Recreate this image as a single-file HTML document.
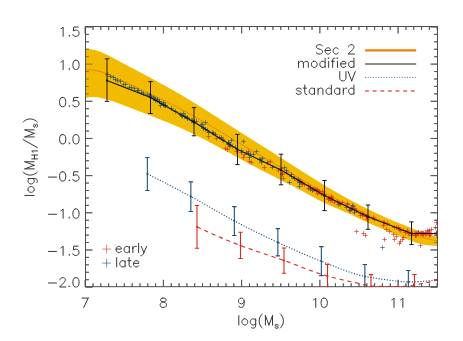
<!DOCTYPE html>
<html><head><meta charset="utf-8"><title>plot</title><style>html,body{margin:0;padding:0;background:#fff;font-family:"Liberation Sans",sans-serif}svg{display:block}</style></head><body><svg width="463" height="341" viewBox="0 0 463 341">
<rect width="463" height="341" fill="#fff"/>
<defs><clipPath id="c"><rect x="85.5" y="26.5" width="352" height="260.2"/></clipPath><clipPath id="c2"><rect x="85.5" y="26.5" width="352" height="260.7"/></clipPath></defs>
<path d="M85.2 286.7v-6.9M85.2 26.5v6.9M93.02 286.7v-3.4M93.02 26.5v3.4M100.84 286.7v-3.4M100.84 26.5v3.4M108.67 286.7v-3.4M108.67 26.5v3.4M116.49 286.7v-3.4M116.49 26.5v3.4M124.31 286.7v-3.4M124.31 26.5v3.4M132.13 286.7v-3.4M132.13 26.5v3.4M139.96 286.7v-3.4M139.96 26.5v3.4M147.78 286.7v-3.4M147.78 26.5v3.4M155.6 286.7v-3.4M155.6 26.5v3.4M163.42 286.7v-6.9M163.42 26.5v6.9M171.24 286.7v-3.4M171.24 26.5v3.4M179.07 286.7v-3.4M179.07 26.5v3.4M186.89 286.7v-3.4M186.89 26.5v3.4M194.71 286.7v-3.4M194.71 26.5v3.4M202.53 286.7v-3.4M202.53 26.5v3.4M210.36 286.7v-3.4M210.36 26.5v3.4M218.18 286.7v-3.4M218.18 26.5v3.4M226 286.7v-3.4M226 26.5v3.4M233.82 286.7v-3.4M233.82 26.5v3.4M241.64 286.7v-6.9M241.64 26.5v6.9M249.47 286.7v-3.4M249.47 26.5v3.4M257.29 286.7v-3.4M257.29 26.5v3.4M265.11 286.7v-3.4M265.11 26.5v3.4M272.93 286.7v-3.4M272.93 26.5v3.4M280.76 286.7v-3.4M280.76 26.5v3.4M288.58 286.7v-3.4M288.58 26.5v3.4M296.4 286.7v-3.4M296.4 26.5v3.4M304.22 286.7v-3.4M304.22 26.5v3.4M312.04 286.7v-3.4M312.04 26.5v3.4M319.87 286.7v-6.9M319.87 26.5v6.9M327.69 286.7v-3.4M327.69 26.5v3.4M335.51 286.7v-3.4M335.51 26.5v3.4M343.33 286.7v-3.4M343.33 26.5v3.4M351.16 286.7v-3.4M351.16 26.5v3.4M358.98 286.7v-3.4M358.98 26.5v3.4M366.8 286.7v-3.4M366.8 26.5v3.4M374.62 286.7v-3.4M374.62 26.5v3.4M382.44 286.7v-3.4M382.44 26.5v3.4M390.27 286.7v-3.4M390.27 26.5v3.4M398.09 286.7v-6.9M398.09 26.5v6.9M405.91 286.7v-3.4M405.91 26.5v3.4M413.73 286.7v-3.4M413.73 26.5v3.4M421.56 286.7v-3.4M421.56 26.5v3.4M429.38 286.7v-3.4M429.38 26.5v3.4M437.2 286.7v-3.4M437.2 26.5v3.4M85.5 26.95h6.9M437.5 26.95h-6.9M85.5 34.38h3.4M437.5 34.38h-3.4M85.5 41.82h3.4M437.5 41.82h-3.4M85.5 49.25h3.4M437.5 49.25h-3.4M85.5 56.69h3.4M437.5 56.69h-3.4M85.5 64.12h6.9M437.5 64.12h-6.9M85.5 71.56h3.4M437.5 71.56h-3.4M85.5 78.99h3.4M437.5 78.99h-3.4M85.5 86.42h3.4M437.5 86.42h-3.4M85.5 93.86h3.4M437.5 93.86h-3.4M85.5 101.29h6.9M437.5 101.29h-6.9M85.5 108.73h3.4M437.5 108.73h-3.4M85.5 116.16h3.4M437.5 116.16h-3.4M85.5 123.6h3.4M437.5 123.6h-3.4M85.5 131.03h3.4M437.5 131.03h-3.4M85.5 138.46h6.9M437.5 138.46h-6.9M85.5 145.9h3.4M437.5 145.9h-3.4M85.5 153.33h3.4M437.5 153.33h-3.4M85.5 160.77h3.4M437.5 160.77h-3.4M85.5 168.2h3.4M437.5 168.2h-3.4M85.5 175.64h6.9M437.5 175.64h-6.9M85.5 183.07h3.4M437.5 183.07h-3.4M85.5 190.5h3.4M437.5 190.5h-3.4M85.5 197.94h3.4M437.5 197.94h-3.4M85.5 205.37h3.4M437.5 205.37h-3.4M85.5 212.81h6.9M437.5 212.81h-6.9M85.5 220.24h3.4M437.5 220.24h-3.4M85.5 227.68h3.4M437.5 227.68h-3.4M85.5 235.11h3.4M437.5 235.11h-3.4M85.5 242.54h3.4M437.5 242.54h-3.4M85.5 249.98h6.9M437.5 249.98h-6.9M85.5 257.41h3.4M437.5 257.41h-3.4M85.5 264.85h3.4M437.5 264.85h-3.4M85.5 272.28h3.4M437.5 272.28h-3.4M85.5 279.72h3.4M437.5 279.72h-3.4M85.5 287.15h6.9M437.5 287.15h-6.9" fill="none" stroke="#4d4d4d" stroke-width="0.9"/>
<g clip-path="url(#c)">
<path d="M85 49.03 L86 48.99 L87 48.97 L88 49 L89 49.06 L90 49.15 L91 49.28 L92 49.44 L93 49.63 L94 49.85 L95 50.09 L96 50.37 L97 50.66 L98 50.99 L99 51.33 L100 51.7 L101 52.08 L102 52.49 L103 52.91 L104 53.35 L105 53.8 L106 54.27 L107 54.75 L108 55.25 L109 55.75 L110 56.26 L111 56.78 L112 57.31 L113 57.84 L114 58.38 L115 58.91 L116 59.45 L117 59.99 L118 60.53 L119 61.07 L120 61.61 L121 62.14 L122 62.68 L123 63.21 L124 63.75 L125 64.28 L126 64.81 L127 65.35 L128 65.88 L129 66.41 L130 66.94 L131 67.47 L132 68 L133 68.53 L134 69.06 L135 69.59 L136 70.12 L137 70.65 L138 71.18 L139 71.71 L140 72.24 L141 72.77 L142 73.3 L143 73.84 L144 74.37 L145 74.9 L146 75.43 L147 75.97 L148 76.5 L149 77.04 L150 77.57 L151 78.11 L152 78.65 L153 79.18 L154 79.72 L155 80.26 L156 80.8 L157 81.35 L158 81.89 L159 82.44 L160 82.98 L161 83.53 L162 84.08 L163 84.63 L164 85.18 L165 85.74 L166 86.29 L167 86.85 L168 87.41 L169 87.97 L170 88.53 L171 89.1 L172 89.67 L173 90.24 L174 90.81 L175 91.38 L176 91.96 L177 92.53 L178 93.11 L179 93.7 L180 94.28 L181 94.87 L182 95.46 L183 96.05 L184 96.65 L185 97.24 L186 97.84 L187 98.45 L188 99.05 L189 99.65 L190 100.26 L191 100.87 L192 101.48 L193 102.1 L194 102.71 L195 103.33 L196 103.95 L197 104.57 L198 105.19 L199 105.81 L200 106.44 L201 107.06 L202 107.69 L203 108.32 L204 108.95 L205 109.58 L206 110.21 L207 110.85 L208 111.48 L209 112.12 L210 112.75 L211 113.39 L212 114.03 L213 114.67 L214 115.31 L215 115.95 L216 116.59 L217 117.23 L218 117.87 L219 118.51 L220 119.15 L221 119.79 L222 120.44 L223 121.08 L224 121.72 L225 122.36 L226 123.01 L227 123.65 L228 124.29 L229 124.93 L230 125.57 L231 126.22 L232 126.86 L233 127.5 L234 128.14 L235 128.78 L236 129.42 L237 130.05 L238 130.69 L239 131.33 L240 131.97 L241 132.6 L242 133.23 L243 133.87 L244 134.5 L245 135.13 L246 135.76 L247 136.4 L248 137.03 L249 137.66 L250 138.29 L251 138.91 L252 139.54 L253 140.17 L254 140.8 L255 141.43 L256 142.05 L257 142.68 L258 143.31 L259 143.94 L260 144.56 L261 145.19 L262 145.82 L263 146.44 L264 147.07 L265 147.7 L266 148.33 L267 148.96 L268 149.59 L269 150.21 L270 150.84 L271 151.47 L272 152.1 L273 152.74 L274 153.37 L275 154 L276 154.63 L277 155.27 L278 155.9 L279 156.54 L280 157.17 L281 157.81 L282 158.45 L283 159.09 L284 159.73 L285 160.37 L286 161.01 L287 161.65 L288 162.29 L289 162.94 L290 163.58 L291 164.22 L292 164.86 L293 165.51 L294 166.15 L295 166.79 L296 167.43 L297 168.07 L298 168.71 L299 169.36 L300 170 L301 170.63 L302 171.27 L303 171.91 L304 172.55 L305 173.18 L306 173.82 L307 174.45 L308 175.08 L309 175.72 L310 176.35 L311 176.97 L312 177.6 L313 178.23 L314 178.85 L315 179.47 L316 180.09 L317 180.71 L318 181.33 L319 181.94 L320 182.55 L321 183.17 L322 183.77 L323 184.38 L324 184.99 L325 185.59 L326 186.19 L327 186.79 L328 187.39 L329 187.98 L330 188.57 L331 189.16 L332 189.75 L333 190.34 L334 190.92 L335 191.5 L336 192.08 L337 192.65 L338 193.22 L339 193.79 L340 194.36 L341 194.93 L342 195.49 L343 196.05 L344 196.6 L345 197.16 L346 197.71 L347 198.26 L348 198.8 L349 199.35 L350 199.89 L351 200.42 L352 200.96 L353 201.49 L354 202.02 L355 202.55 L356 203.07 L357 203.59 L358 204.11 L359 204.63 L360 205.14 L361 205.65 L362 206.16 L363 206.67 L364 207.17 L365 207.67 L366 208.17 L367 208.67 L368 209.16 L369 209.65 L370 210.14 L371 210.62 L372 211.1 L373 211.58 L374 212.06 L375 212.53 L376 213 L377 213.47 L378 213.94 L379 214.4 L380 214.86 L381 215.32 L382 215.78 L383 216.23 L384 216.68 L385 217.13 L386 217.58 L387 218.02 L388 218.46 L389 218.9 L390 219.33 L391 219.77 L392 220.2 L393 220.63 L394 221.05 L395 221.47 L396 221.89 L397 222.31 L398 222.73 L399 223.14 L400 223.55 L401 223.96 L402 224.36 L403 224.76 L404 225.16 L405 225.56 L406 225.95 L407 226.35 L408 226.74 L409 227.12 L410 227.51 L411 227.89 L412 228.27 L413 228.65 L414 229.02 L415 229.39 L416 229.76 L417 230.13 L418 230.49 L419 230.86 L420 231.22 L421 231.57 L422 231.93 L423 232.28 L424 232.63 L425 232.98 L426 233.32 L427 233.67 L428 234.01 L429 234.34 L430 234.68 L431 235.01 L432 235.34 L433 235.67 L434 235.99 L435 236.32 L436 236.64 L437 236.95 L438 237.27 L438 245.58 L437 245.64 L436 245.68 L435 245.7 L434 245.69 L433 245.67 L432 245.62 L431 245.55 L430 245.47 L429 245.37 L428 245.24 L427 245.11 L426 244.95 L425 244.77 L424 244.59 L423 244.38 L422 244.16 L421 243.92 L420 243.67 L419 243.41 L418 243.13 L417 242.85 L416 242.54 L415 242.23 L414 241.91 L413 241.57 L412 241.23 L411 240.87 L410 240.51 L409 240.14 L408 239.76 L407 239.37 L406 238.98 L405 238.57 L404 238.17 L403 237.75 L402 237.34 L401 236.91 L400 236.49 L399 236.06 L398 235.62 L397 235.19 L396 234.75 L395 234.31 L394 233.87 L393 233.43 L392 232.99 L391 232.55 L390 232.11 L389 231.67 L388 231.24 L387 230.8 L386 230.37 L385 229.95 L384 229.52 L383 229.1 L382 228.69 L381 228.27 L380 227.86 L379 227.45 L378 227.03 L377 226.62 L376 226.21 L375 225.79 L374 225.37 L373 224.95 L372 224.52 L371 224.09 L370 223.66 L369 223.21 L368 222.76 L367 222.31 L366 221.84 L365 221.37 L364 220.9 L363 220.42 L362 219.94 L361 219.45 L360 218.96 L359 218.47 L358 217.98 L357 217.49 L356 217.01 L355 216.52 L354 216.04 L353 215.56 L352 215.08 L351 214.61 L350 214.15 L349 213.69 L348 213.24 L347 212.79 L346 212.35 L345 211.92 L344 211.49 L343 211.06 L342 210.63 L341 210.21 L340 209.78 L339 209.36 L338 208.94 L337 208.52 L336 208.1 L335 207.67 L334 207.25 L333 206.82 L332 206.39 L331 205.95 L330 205.51 L329 205.06 L328 204.61 L327 204.15 L326 203.69 L325 203.21 L324 202.73 L323 202.24 L322 201.74 L321 201.23 L320 200.72 L319 200.19 L318 199.66 L317 199.13 L316 198.59 L315 198.05 L314 197.5 L313 196.96 L312 196.41 L311 195.86 L310 195.32 L309 194.77 L308 194.23 L307 193.69 L306 193.16 L305 192.62 L304 192.09 L303 191.55 L302 191.02 L301 190.5 L300 189.97 L299 189.44 L298 188.92 L297 188.4 L296 187.88 L295 187.36 L294 186.84 L293 186.32 L292 185.8 L291 185.29 L290 184.77 L289 184.26 L288 183.74 L287 183.23 L286 182.72 L285 182.21 L284 181.7 L283 181.19 L282 180.68 L281 180.17 L280 179.66 L279 179.15 L278 178.64 L277 178.13 L276 177.62 L275 177.12 L274 176.61 L273 176.1 L272 175.59 L271 175.08 L270 174.57 L269 174.06 L268 173.55 L267 173.04 L266 172.52 L265 172.01 L264 171.5 L263 170.98 L262 170.47 L261 169.95 L260 169.43 L259 168.91 L258 168.4 L257 167.87 L256 167.35 L255 166.83 L254 166.3 L253 165.78 L252 165.25 L251 164.72 L250 164.19 L249 163.65 L248 163.12 L247 162.58 L246 162.05 L245 161.51 L244 160.97 L243 160.42 L242 159.88 L241 159.34 L240 158.79 L239 158.25 L238 157.7 L237 157.15 L236 156.61 L235 156.06 L234 155.51 L233 154.96 L232 154.41 L231 153.86 L230 153.31 L229 152.76 L228 152.21 L227 151.67 L226 151.12 L225 150.57 L224 150.02 L223 149.47 L222 148.93 L221 148.38 L220 147.84 L219 147.29 L218 146.75 L217 146.21 L216 145.67 L215 145.13 L214 144.59 L213 144.05 L212 143.52 L211 142.98 L210 142.45 L209 141.92 L208 141.4 L207 140.87 L206 140.35 L205 139.82 L204 139.3 L203 138.79 L202 138.27 L201 137.76 L200 137.25 L199 136.74 L198 136.24 L197 135.74 L196 135.24 L195 134.75 L194 134.26 L193 133.77 L192 133.28 L191 132.8 L190 132.32 L189 131.85 L188 131.38 L187 130.91 L186 130.44 L185 129.98 L184 129.52 L183 129.07 L182 128.62 L181 128.17 L180 127.73 L179 127.28 L178 126.84 L177 126.41 L176 125.97 L175 125.54 L174 125.11 L173 124.68 L172 124.26 L171 123.84 L170 123.42 L169 123 L168 122.59 L167 122.17 L166 121.76 L165 121.35 L164 120.95 L163 120.54 L162 120.14 L161 119.73 L160 119.33 L159 118.93 L158 118.54 L157 118.14 L156 117.75 L155 117.35 L154 116.96 L153 116.57 L152 116.18 L151 115.79 L150 115.4 L149 115.01 L148 114.62 L147 114.24 L146 113.85 L145 113.47 L144 113.08 L143 112.7 L142 112.31 L141 111.93 L140 111.54 L139 111.16 L138 110.78 L137 110.39 L136 110.01 L135 109.62 L134 109.24 L133 108.85 L132 108.47 L131 108.08 L130 107.7 L129 107.31 L128 106.92 L127 106.54 L126 106.15 L125 105.77 L124 105.38 L123 105 L122 104.62 L121 104.24 L120 103.87 L119 103.5 L118 103.13 L117 102.77 L116 102.41 L115 102.06 L114 101.71 L113 101.37 L112 101.04 L111 100.71 L110 100.39 L109 100.08 L108 99.77 L107 99.47 L106 99.18 L105 98.91 L104 98.64 L103 98.39 L102 98.15 L101 97.94 L100 97.74 L99 97.56 L98 97.41 L97 97.28 L96 97.18 L95 97.1 L94 97.06 L93 97.04 L92 97.07 L91 97.12 L90 97.22 L89 97.35 L88 97.52 L87 97.74 L86 98 L85 98.31Z" fill="#f2bb00"/>
<path d="M85 70.22 L86 70.06 L87 69.94 L88 69.86 L89 69.82 L90 69.82 L91 69.85 L92 69.92 L93 70.02 L94 70.15 L95 70.31 L96 70.49 L97 70.71 L98 70.95 L99 71.21 L100 71.49 L101 71.8 L102 72.12 L103 72.47 L104 72.83 L105 73.2 L106 73.58 L107 73.98 L108 74.39 L109 74.81 L110 75.24 L111 75.67 L112 76.11 L113 76.56 L114 77.01 L115 77.47 L116 77.93 L117 78.39 L118 78.85 L119 79.31 L120 79.78 L121 80.25 L122 80.71 L123 81.18 L124 81.65 L125 82.12 L126 82.59 L127 83.06 L128 83.53 L129 84 L130 84.47 L131 84.93 L132 85.4 L133 85.87 L134 86.34 L135 86.81 L136 87.27 L137 87.74 L138 88.21 L139 88.67 L140 89.14 L141 89.61 L142 90.08 L143 90.55 L144 91.01 L145 91.48 L146 91.95 L147 92.42 L148 92.89 L149 93.36 L150 93.84 L151 94.31 L152 94.78 L153 95.26 L154 95.73 L155 96.21 L156 96.69 L157 97.17 L158 97.65 L159 98.13 L160 98.61 L161 99.1 L162 99.58 L163 100.07 L164 100.56 L165 101.05 L166 101.55 L167 102.04 L168 102.54 L169 103.03 L170 103.54 L171 104.04 L172 104.54 L173 105.05 L174 105.56 L175 106.07 L176 106.58 L177 107.1 L178 107.62 L179 108.14 L180 108.66 L181 109.19 L182 109.72 L183 110.25 L184 110.78 L185 111.32 L186 111.86 L187 112.4 L188 112.95 L189 113.5 L190 114.05 L191 114.6 L192 115.16 L193 115.72 L194 116.28 L195 116.84 L196 117.4 L197 117.97 L198 118.54 L199 119.11 L200 119.69 L201 120.26 L202 120.84 L203 121.42 L204 122 L205 122.59 L206 123.17 L207 123.76 L208 124.35 L209 124.93 L210 125.52 L211 126.12 L212 126.71 L213 127.3 L214 127.9 L215 128.49 L216 129.09 L217 129.69 L218 130.29 L219 130.89 L220 131.49 L221 132.09 L222 132.69 L223 133.29 L224 133.89 L225 134.49 L226 135.09 L227 135.7 L228 136.3 L229 136.9 L230 137.5 L231 138.1 L232 138.71 L233 139.31 L234 139.91 L235 140.51 L236 141.11 L237 141.71 L238 142.31 L239 142.9 L240 143.5 L241 144.1 L242 144.69 L243 145.29 L244 145.88 L245 146.47 L246 147.07 L247 147.66 L248 148.25 L249 148.84 L250 149.42 L251 150.01 L252 150.6 L253 151.18 L254 151.77 L255 152.35 L256 152.93 L257 153.51 L258 154.1 L259 154.68 L260 155.26 L261 155.84 L262 156.42 L263 157 L264 157.57 L265 158.15 L266 158.73 L267 159.31 L268 159.89 L269 160.47 L270 161.05 L271 161.62 L272 162.2 L273 162.78 L274 163.36 L275 163.94 L276 164.52 L277 165.1 L278 165.68 L279 166.26 L280 166.84 L281 167.43 L282 168.01 L283 168.59 L284 169.18 L285 169.76 L286 170.35 L287 170.93 L288 171.52 L289 172.1 L290 172.69 L291 173.28 L292 173.87 L293 174.46 L294 175.04 L295 175.63 L296 176.22 L297 176.81 L298 177.4 L299 177.99 L300 178.58 L301 179.17 L302 179.77 L303 180.36 L304 180.95 L305 181.54 L306 182.13 L307 182.73 L308 183.32 L309 183.91 L310 184.5 L311 185.1 L312 185.69 L313 186.28 L314 186.87 L315 187.46 L316 188.05 L317 188.63 L318 189.21 L319 189.79 L320 190.36 L321 190.93 L322 191.5 L323 192.06 L324 192.62 L325 193.17 L326 193.71 L327 194.26 L328 194.79 L329 195.33 L330 195.86 L331 196.38 L332 196.9 L333 197.42 L334 197.94 L335 198.45 L336 198.97 L337 199.48 L338 199.98 L339 200.49 L340 200.99 L341 201.5 L342 202 L343 202.5 L344 203 L345 203.5 L346 204.01 L347 204.51 L348 205.01 L349 205.51 L350 206.02 L351 206.52 L352 207.03 L353 207.54 L354 208.05 L355 208.56 L356 209.06 L357 209.57 L358 210.08 L359 210.58 L360 211.09 L361 211.59 L362 212.09 L363 212.58 L364 213.08 L365 213.56 L366 214.05 L367 214.53 L368 215.01 L369 215.48 L370 215.95 L371 216.41 L372 216.87 L373 217.33 L374 217.78 L375 218.23 L376 218.68 L377 219.13 L378 219.57 L379 220.01 L380 220.45 L381 220.89 L382 221.33 L383 221.77 L384 222.2 L385 222.64 L386 223.08 L387 223.52 L388 223.95 L389 224.39 L390 224.83 L391 225.26 L392 225.7 L393 226.13 L394 226.56 L395 226.99 L396 227.42 L397 227.85 L398 228.27 L399 228.69 L400 229.11 L401 229.53 L402 229.94 L403 230.35 L404 230.75 L405 231.16 L406 231.55 L407 231.95 L408 232.34 L409 232.72 L410 233.1 L411 233.47 L412 233.84 L413 234.21 L414 234.56 L415 234.91 L416 235.26 L417 235.6 L418 235.93 L419 236.26 L420 236.57 L421 236.88 L422 237.19 L423 237.48 L424 237.77 L425 238.05 L426 238.32 L427 238.58 L428 238.84 L429 239.08 L430 239.32 L431 239.54 L432 239.76 L433 239.97 L434 240.16 L435 240.35 L436 240.53 L437 240.69 L438 240.84" fill="none" stroke="#e8780a" stroke-width="0.8"/>
<path d="M284.2 172.5h4.6M286.5 170.2v4.6M280.2 174.5h4.6M282.5 172.2v4.6M220.2 139.5h4.6M222.5 137.2v4.6M279.2 168.5h4.6M281.5 166.2v4.6M276.2 170.5h4.6M278.5 168.2v4.6M280.2 173.5h4.6M282.5 171.2v4.6M241.2 157.5h4.6M243.5 155.2v4.6M246.2 151.5h4.6M248.5 149.2v4.6M247.2 161.5h4.6M249.5 159.2v4.6M227.2 146.5h4.6M229.5 144.2v4.6M223.2 148.5h4.6M225.5 146.2v4.6M281.2 178.5h4.6M283.5 176.2v4.6M225.2 149.5h4.6M227.5 147.2v4.6M268.2 161.5h4.6M270.5 159.2v4.6M242.2 154.5h4.6M244.5 152.2v4.6M214.2 138.5h4.6M216.5 136.2v4.6M295.2 180.5h4.6M297.5 178.2v4.6M292.2 178.5h4.6M294.5 176.2v4.6M249.2 162.5h4.6M251.5 160.2v4.6M230.2 146.5h4.6M232.5 144.2v4.6M234.2 151.5h4.6M236.5 149.2v4.6M262.2 167.5h4.6M264.5 165.2v4.6M329.2 198.5h4.6M331.5 196.2v4.6M407.2 233.5h4.6M409.5 231.2v4.6M340.2 202.5h4.6M342.5 200.2v4.6M406.2 233.5h4.6M408.5 231.2v4.6M348.2 209.5h4.6M350.5 207.2v4.6M361.2 214.5h4.6M363.5 212.2v4.6M360.2 215.5h4.6M362.5 213.2v4.6M319.2 194.5h4.6M321.5 192.2v4.6M298.2 181.5h4.6M300.5 179.2v4.6M354.2 210.5h4.6M356.5 208.2v4.6M385.2 223.5h4.6M387.5 221.2v4.6M360.2 213.5h4.6M362.5 211.2v4.6M364.2 216.5h4.6M366.5 214.2v4.6M365.2 216.5h4.6M367.5 214.2v4.6M327.2 198.5h4.6M329.5 196.2v4.6M358.2 215.5h4.6M360.5 213.2v4.6M365.2 216.5h4.6M367.5 214.2v4.6M351.2 206.5h4.6M353.5 204.2v4.6M371.2 217.5h4.6M373.5 215.2v4.6M381.2 222.5h4.6M383.5 220.2v4.6M352.2 208.5h4.6M354.5 206.2v4.6M410.2 233.5h4.6M412.5 231.2v4.6M381.2 225.5h4.6M383.5 223.2v4.6M329.2 196.5h4.6M331.5 194.2v4.6M365.2 219.5h4.6M367.5 217.2v4.6M314.2 190.5h4.6M316.5 188.2v4.6M312.2 189.5h4.6M314.5 187.2v4.6M326.2 198.5h4.6M328.5 196.2v4.6M306.2 185.5h4.6M308.5 183.2v4.6M405.2 230.5h4.6M407.5 228.2v4.6M316.2 191.5h4.6M318.5 189.2v4.6M315.2 189.5h4.6M317.5 187.2v4.6M403.2 232.5h4.6M405.5 230.2v4.6M412.2 233.5h4.6M414.5 231.2v4.6M345.2 203.5h4.6M347.5 201.2v4.6M397.2 229.5h4.6M399.5 227.2v4.6M317.2 191.5h4.6M319.5 189.2v4.6M338.2 204.5h4.6M340.5 202.2v4.6M321.2 194.5h4.6M323.5 192.2v4.6M300.2 184.5h4.6M302.5 182.2v4.6M364.2 216.5h4.6M366.5 214.2v4.6M337.2 203.5h4.6M339.5 201.2v4.6M372.2 219.5h4.6M374.5 217.2v4.6M416.2 233.5h4.6M418.5 231.2v4.6M392.2 227.5h4.6M394.5 225.2v4.6M329.2 199.5h4.6M331.5 197.2v4.6M302.2 184.5h4.6M304.5 182.2v4.6M313.2 189.5h4.6M315.5 187.2v4.6M348.2 210.5h4.6M350.5 208.2v4.6M329.2 197.5h4.6M331.5 195.2v4.6M315.2 193.5h4.6M317.5 191.2v4.6M382.2 222.5h4.6M384.5 220.2v4.6M308.2 189.5h4.6M310.5 187.2v4.6M349.2 209.5h4.6M351.5 207.2v4.6M306.2 188.5h4.6M308.5 186.2v4.6M394.2 227.5h4.6M396.5 225.2v4.6M308.2 187.5h4.6M310.5 185.2v4.6M401.2 230.5h4.6M403.5 228.2v4.6M352.2 209.5h4.6M354.5 207.2v4.6M409.2 235.5h4.6M411.5 233.2v4.6M330.2 200.5h4.6M332.5 198.2v4.6M326.2 199.5h4.6M328.5 197.2v4.6M311.2 189.5h4.6M313.5 187.2v4.6M322.2 195.5h4.6M324.5 193.2v4.6M335.2 201.5h4.6M337.5 199.2v4.6M332.2 202.5h4.6M334.5 200.2v4.6M358.2 213.5h4.6M360.5 211.2v4.6M300.2 183.5h4.6M302.5 181.2v4.6M328.2 200.5h4.6M330.5 198.2v4.6M364.2 216.5h4.6M366.5 214.2v4.6M320.2 191.5h4.6M322.5 189.2v4.6M310.2 189.5h4.6M312.5 187.2v4.6M396.2 227.5h4.6M398.5 225.2v4.6M398.2 230.5h4.6M400.5 228.2v4.6M345.2 204.5h4.6M347.5 202.2v4.6M434.2 233.5h4.6M436.5 231.2v4.6M420.2 234.5h4.6M422.5 232.2v4.6M426.2 231.5h4.6M428.5 229.2v4.6M421.2 233.5h4.6M423.5 231.2v4.6M415.2 233.5h4.6M417.5 231.2v4.6M414.2 233.5h4.6M416.5 231.2v4.6M416.2 232.5h4.6M418.5 230.2v4.6M414.2 235.5h4.6M416.5 233.2v4.6M427.2 230.5h4.6M429.5 228.2v4.6M419.2 233.5h4.6M421.5 231.2v4.6M423.2 234.5h4.6M425.5 232.2v4.6M416.2 232.5h4.6M418.5 230.2v4.6M434.2 233.5h4.6M436.5 231.2v4.6M434.2 232.5h4.6M436.5 230.2v4.6M434.2 233.5h4.6M436.5 231.2v4.6M419.2 233.5h4.6M421.5 231.2v4.6M421.2 233.5h4.6M423.5 231.2v4.6M423.2 232.5h4.6M425.5 230.2v4.6M424.2 233.5h4.6M426.5 231.2v4.6M413.2 233.5h4.6M415.5 231.2v4.6M421.2 234.5h4.6M423.5 232.2v4.6M413.2 235.5h4.6M415.5 233.2v4.6M418.2 233.5h4.6M420.5 231.2v4.6M425.2 230.5h4.6M427.5 228.2v4.6M427.2 232.5h4.6M429.5 230.2v4.6M428.2 234.5h4.6M430.5 232.2v4.6M420.2 232.5h4.6M422.5 230.2v4.6M434.2 235.5h4.6M436.5 233.2v4.6M427.2 235.5h4.6M429.5 233.2v4.6M413.2 235.5h4.6M415.5 233.2v4.6M206.2 136.5h4.6M208.5 134.2v4.6M354.2 231.5h4.6M356.5 229.2v4.6M361.2 233.5h4.6M363.5 231.2v4.6M363.2 235.5h4.6M365.5 233.2v4.6M382.2 239.5h4.6M384.5 237.2v4.6M397.2 243.5h4.6M399.5 241.2v4.6M398.2 241.5h4.6M400.5 239.2v4.6M400.2 239.5h4.6M402.5 237.2v4.6M391.2 234.5h4.6M393.5 232.2v4.6M401.2 237.5h4.6M403.5 235.2v4.6M418.2 245.5h4.6M420.5 243.2v4.6M384.2 229.5h4.6M386.5 227.2v4.6M434.2 222.5h4.6M436.5 220.2v4.6M433.2 227.5h4.6M435.5 225.2v4.6M429.2 229.5h4.6M431.5 227.2v4.6M387.2 231.5h4.6M389.5 229.2v4.6M394.2 236.5h4.6M396.5 234.2v4.6M392.2 239.5h4.6M394.5 237.2v4.6" stroke="#d62a20" stroke-width="0.62" fill="none"/>
<path d="M105.2 74.5h4.6M107.5 72.2v4.6M108.2 76.5h4.6M110.5 74.2v4.6M111.2 77.5h4.6M113.5 75.2v4.6M113.2 79.5h4.6M115.5 77.2v4.6M115.2 80.5h4.6M117.5 78.2v4.6M118.2 81.5h4.6M120.5 79.2v4.6M121.2 84.5h4.6M123.5 82.2v4.6M123.2 84.5h4.6M125.5 82.2v4.6M127.2 87.5h4.6M129.5 85.2v4.6M129.2 87.5h4.6M131.5 85.2v4.6M132.2 88.5h4.6M134.5 86.2v4.6M135.2 90.5h4.6M137.5 88.2v4.6M136.2 90.5h4.6M138.5 88.2v4.6M139.2 92.5h4.6M141.5 90.2v4.6M141.2 93.5h4.6M143.5 91.2v4.6M145.2 94.5h4.6M147.5 92.2v4.6M147.2 95.5h4.6M149.5 93.2v4.6M149.2 96.5h4.6M151.5 94.2v4.6M153.2 99.5h4.6M155.5 97.2v4.6M155.2 100.5h4.6M157.5 98.2v4.6M157.2 101.5h4.6M159.5 99.2v4.6M161.2 104.5h4.6M163.5 102.2v4.6M169.2 108.5h4.6M171.5 106.2v4.6M226.2 142.5h4.6M228.5 140.2v4.6M213.2 134.5h4.6M215.5 132.2v4.6M158.2 105.5h4.6M160.5 103.2v4.6M185.2 118.5h4.6M187.5 116.2v4.6M192.2 121.5h4.6M194.5 119.2v4.6M151.2 97.5h4.6M153.5 95.2v4.6M199.2 124.5h4.6M201.5 122.2v4.6M226.2 142.5h4.6M228.5 140.2v4.6M201.2 128.5h4.6M203.5 126.2v4.6M200.2 124.5h4.6M202.5 122.2v4.6M233.2 147.5h4.6M235.5 145.2v4.6M190.2 120.5h4.6M192.5 118.2v4.6M211.2 133.5h4.6M213.5 131.2v4.6M206.2 132.5h4.6M208.5 130.2v4.6M173.2 111.5h4.6M175.5 109.2v4.6M182.2 116.5h4.6M184.5 114.2v4.6M189.2 120.5h4.6M191.5 118.2v4.6M163.2 105.5h4.6M165.5 103.2v4.6M217.2 137.5h4.6M219.5 135.2v4.6M159.2 103.5h4.6M161.5 101.2v4.6M226.2 144.5h4.6M228.5 142.2v4.6M155.2 99.5h4.6M157.5 97.2v4.6M227.2 144.5h4.6M229.5 142.2v4.6M221.2 140.5h4.6M223.5 138.2v4.6M185.2 117.5h4.6M187.5 115.2v4.6M180.2 116.5h4.6M182.5 114.2v4.6M161.2 102.5h4.6M163.5 100.2v4.6M163.2 105.5h4.6M165.5 103.2v4.6M191.2 122.5h4.6M193.5 120.2v4.6M201.2 127.5h4.6M203.5 125.2v4.6M185.2 118.5h4.6M187.5 116.2v4.6M181.2 113.5h4.6M183.5 111.2v4.6M210.2 132.5h4.6M212.5 130.2v4.6M194.2 121.5h4.6M196.5 119.2v4.6M152.2 98.5h4.6M154.5 96.2v4.6M228.2 145.5h4.6M230.5 143.2v4.6M219.2 137.5h4.6M221.5 135.2v4.6M183.2 116.5h4.6M185.5 114.2v4.6M205.2 130.5h4.6M207.5 128.2v4.6M153.2 100.5h4.6M155.5 98.2v4.6M162.2 105.5h4.6M164.5 103.2v4.6M178.2 114.5h4.6M180.5 112.2v4.6M161.2 104.5h4.6M163.5 102.2v4.6M157.2 101.5h4.6M159.5 99.2v4.6M226.2 143.5h4.6M228.5 141.2v4.6M203.2 129.5h4.6M205.5 127.2v4.6M179.2 115.5h4.6M181.5 113.2v4.6M259.2 162.5h4.6M261.5 160.2v4.6M297.2 182.5h4.6M299.5 180.2v4.6M265.2 162.5h4.6M267.5 160.2v4.6M244.2 152.5h4.6M246.5 150.2v4.6M258.2 159.5h4.6M260.5 157.2v4.6M247.2 157.5h4.6M249.5 155.2v4.6M239.2 152.5h4.6M241.5 150.2v4.6M246.2 153.5h4.6M248.5 151.2v4.6M270.2 167.5h4.6M272.5 165.2v4.6M296.2 179.5h4.6M298.5 177.2v4.6M289.2 174.5h4.6M291.5 172.2v4.6M260.2 158.5h4.6M262.5 156.2v4.6M248.2 154.5h4.6M250.5 152.2v4.6M284.2 170.5h4.6M286.5 168.2v4.6M257.2 159.5h4.6M259.5 157.2v4.6M297.2 182.5h4.6M299.5 180.2v4.6M289.2 176.5h4.6M291.5 174.2v4.6M282.2 167.5h4.6M284.5 165.2v4.6M251.2 154.5h4.6M253.5 152.2v4.6M239.2 150.5h4.6M241.5 148.2v4.6M299.2 182.5h4.6M301.5 180.2v4.6M336.2 204.5h4.6M338.5 202.2v4.6M350.2 205.5h4.6M352.5 203.2v4.6M352.2 212.5h4.6M354.5 210.2v4.6M350.2 208.5h4.6M352.5 206.2v4.6M310.2 190.5h4.6M312.5 188.2v4.6M308.2 188.5h4.6M310.5 186.2v4.6M347.2 210.5h4.6M349.5 208.2v4.6M203.2 122.5h4.6M205.5 120.2v4.6M380.2 247.5h4.6M382.5 245.2v4.6M344.2 207.5h4.6M346.5 205.2v4.6M349.2 208.5h4.6M351.5 206.2v4.6M241.2 141.5h4.6M243.5 139.2v4.6M229.2 140.5h4.6M231.5 138.2v4.6M254.2 151.5h4.6M256.5 149.2v4.6M287.2 182.5h4.6M289.5 180.2v4.6M292.2 178.5h4.6M294.5 176.2v4.6M297.2 186.5h4.6M299.5 184.2v4.6" stroke="#1f5078" stroke-width="0.62" fill="none"/>
<path d="M107 80.4 L150.5 97.5 L194 122 L237.5 149.4 L281 170 L324.5 195.5 L368 216.7 L411.5 233.5 L437.5 233.5" fill="none" stroke="#111" stroke-width="1.05"/>
<path d="M107 58.8V101.4M104.8 58.8h4.4M104.8 101.4h4.4M150.5 81.6V113.5M148.3 81.6h4.4M148.3 113.5h4.4M194 107.6V135.8M191.8 107.6h4.4M191.8 135.8h4.4M237.5 134.4V164.6M235.3 134.4h4.4M235.3 164.6h4.4M281 154.2V184.8M278.8 154.2h4.4M278.8 184.8h4.4M324.5 180.5V210.6M322.3 180.5h4.4M322.3 210.6h4.4M368 205V229.3M365.8 205h4.4M365.8 229.3h4.4M411.5 221.9V244.6M409.3 221.9h4.4M409.3 244.6h4.4" stroke="#1a1a1a" stroke-width="1.0" fill="none"/>
<circle cx="107" cy="80.4" r="1.1" fill="#111"/><circle cx="150.5" cy="97.5" r="1.1" fill="#111"/><circle cx="194" cy="122" r="1.1" fill="#111"/><circle cx="237.5" cy="149.4" r="1.1" fill="#111"/><circle cx="281" cy="170" r="1.1" fill="#111"/><circle cx="324.5" cy="195.5" r="1.1" fill="#111"/><circle cx="368" cy="216.7" r="1.1" fill="#111"/><circle cx="411.5" cy="233.5" r="1.1" fill="#111"/>
</g>
<path d="M85.2 286.7v-6.9M85.2 26.5v6.9M93.02 286.7v-3.4M93.02 26.5v3.4M100.84 286.7v-3.4M100.84 26.5v3.4M108.67 286.7v-3.4M108.67 26.5v3.4M116.49 286.7v-3.4M116.49 26.5v3.4M124.31 286.7v-3.4M124.31 26.5v3.4M132.13 286.7v-3.4M132.13 26.5v3.4M139.96 286.7v-3.4M139.96 26.5v3.4M147.78 286.7v-3.4M147.78 26.5v3.4M155.6 286.7v-3.4M155.6 26.5v3.4M163.42 286.7v-6.9M163.42 26.5v6.9M171.24 286.7v-3.4M171.24 26.5v3.4M179.07 286.7v-3.4M179.07 26.5v3.4M186.89 286.7v-3.4M186.89 26.5v3.4M194.71 286.7v-3.4M194.71 26.5v3.4M202.53 286.7v-3.4M202.53 26.5v3.4M210.36 286.7v-3.4M210.36 26.5v3.4M218.18 286.7v-3.4M218.18 26.5v3.4M226 286.7v-3.4M226 26.5v3.4M233.82 286.7v-3.4M233.82 26.5v3.4M241.64 286.7v-6.9M241.64 26.5v6.9M249.47 286.7v-3.4M249.47 26.5v3.4M257.29 286.7v-3.4M257.29 26.5v3.4M265.11 286.7v-3.4M265.11 26.5v3.4M272.93 286.7v-3.4M272.93 26.5v3.4M280.76 286.7v-3.4M280.76 26.5v3.4M288.58 286.7v-3.4M288.58 26.5v3.4M296.4 286.7v-3.4M296.4 26.5v3.4M304.22 286.7v-3.4M304.22 26.5v3.4M312.04 286.7v-3.4M312.04 26.5v3.4M319.87 286.7v-6.9M319.87 26.5v6.9M327.69 286.7v-3.4M327.69 26.5v3.4M335.51 286.7v-3.4M335.51 26.5v3.4M343.33 286.7v-3.4M343.33 26.5v3.4M351.16 286.7v-3.4M351.16 26.5v3.4M358.98 286.7v-3.4M358.98 26.5v3.4M366.8 286.7v-3.4M366.8 26.5v3.4M374.62 286.7v-3.4M374.62 26.5v3.4M382.44 286.7v-3.4M382.44 26.5v3.4M390.27 286.7v-3.4M390.27 26.5v3.4M398.09 286.7v-6.9M398.09 26.5v6.9M405.91 286.7v-3.4M405.91 26.5v3.4M413.73 286.7v-3.4M413.73 26.5v3.4M421.56 286.7v-3.4M421.56 26.5v3.4M429.38 286.7v-3.4M429.38 26.5v3.4M437.2 286.7v-3.4M437.2 26.5v3.4M85.5 26.95h6.9M437.5 26.95h-6.9M85.5 34.38h3.4M437.5 34.38h-3.4M85.5 41.82h3.4M437.5 41.82h-3.4M85.5 49.25h3.4M437.5 49.25h-3.4M85.5 56.69h3.4M437.5 56.69h-3.4M85.5 64.12h6.9M437.5 64.12h-6.9M85.5 71.56h3.4M437.5 71.56h-3.4M85.5 78.99h3.4M437.5 78.99h-3.4M85.5 86.42h3.4M437.5 86.42h-3.4M85.5 93.86h3.4M437.5 93.86h-3.4M85.5 101.29h6.9M437.5 101.29h-6.9M85.5 108.73h3.4M437.5 108.73h-3.4M85.5 116.16h3.4M437.5 116.16h-3.4M85.5 123.6h3.4M437.5 123.6h-3.4M85.5 131.03h3.4M437.5 131.03h-3.4M85.5 138.46h6.9M437.5 138.46h-6.9M85.5 145.9h3.4M437.5 145.9h-3.4M85.5 153.33h3.4M437.5 153.33h-3.4M85.5 160.77h3.4M437.5 160.77h-3.4M85.5 168.2h3.4M437.5 168.2h-3.4M85.5 175.64h6.9M437.5 175.64h-6.9M85.5 183.07h3.4M437.5 183.07h-3.4M85.5 190.5h3.4M437.5 190.5h-3.4M85.5 197.94h3.4M437.5 197.94h-3.4M85.5 205.37h3.4M437.5 205.37h-3.4M85.5 212.81h6.9M437.5 212.81h-6.9M85.5 220.24h3.4M437.5 220.24h-3.4M85.5 227.68h3.4M437.5 227.68h-3.4M85.5 235.11h3.4M437.5 235.11h-3.4M85.5 242.54h3.4M437.5 242.54h-3.4M85.5 249.98h6.9M437.5 249.98h-6.9M85.5 257.41h3.4M437.5 257.41h-3.4M85.5 264.85h3.4M437.5 264.85h-3.4M85.5 272.28h3.4M437.5 272.28h-3.4M85.5 279.72h3.4M437.5 279.72h-3.4M85.5 287.15h6.9M437.5 287.15h-6.9" fill="none" stroke="#4d4d4d" stroke-width="0.9" opacity="0.75"/>
<path d="M85.5 26.5H437.5V286.7H85.5Z" fill="none" stroke="#4d4d4d" stroke-width="1"/>
<g clip-path="url(#c2)">
<path d="M147.35 173.9 L149.35 174.9 L151.35 175.9 L153.35 176.91 L155.35 177.92 L157.35 178.94 L159.35 179.96 L161.35 180.98 L163.35 182.01 L165.35 183.04 L167.35 184.07 L169.35 185.11 L171.35 186.15 L173.35 187.2 L175.35 188.25 L177.35 189.3 L179.35 190.36 L181.35 191.42 L183.35 192.48 L185.35 193.55 L187.35 194.62 L189.35 195.69 L191.35 196.77 L193.35 197.86 L195.35 198.96 L197.35 200.07 L199.35 201.2 L201.35 202.33 L203.35 203.47 L205.35 204.61 L207.35 205.76 L209.35 206.91 L211.35 208.06 L213.35 209.21 L215.35 210.36 L217.35 211.5 L219.35 212.64 L221.35 213.78 L223.35 214.9 L225.35 216.02 L227.35 217.13 L229.35 218.22 L231.35 219.31 L233.35 220.37 L235.35 221.42 L237.35 222.47 L239.35 223.51 L241.35 224.54 L243.35 225.57 L245.35 226.59 L247.35 227.61 L249.35 228.62 L251.35 229.63 L253.35 230.63 L255.35 231.62 L257.35 232.61 L259.35 233.59 L261.35 234.57 L263.35 235.54 L265.35 236.5 L267.35 237.46 L269.35 238.42 L271.35 239.36 L273.35 240.3 L275.35 241.24 L277.35 242.17 L279.35 243.09 L281.35 244.02 L283.35 244.94 L285.35 245.85 L287.35 246.77 L289.35 247.68 L291.35 248.59 L293.35 249.49 L295.35 250.38 L297.35 251.27 L299.35 252.16 L301.35 253.03 L303.35 253.9 L305.35 254.76 L307.35 255.62 L309.35 256.46 L311.35 257.29 L313.35 258.12 L315.35 258.93 L317.35 259.73 L319.35 260.52 L321.35 261.3 L323.35 262.08 L325.35 262.86 L327.35 263.65 L329.35 264.45 L331.35 265.25 L333.35 266.04 L335.35 266.83 L337.35 267.62 L339.35 268.39 L341.35 269.16 L343.35 269.91 L345.35 270.64 L347.35 271.36 L349.35 272.05 L351.35 272.72 L353.35 273.36 L355.35 273.97 L357.35 274.55 L359.35 275.1 L361.35 275.61 L363.35 276.08 L365.35 276.5 L367.35 276.9 L369.35 277.28 L371.35 277.63 L373.35 277.97 L375.35 278.28 L377.35 278.58 L379.35 278.87 L381.35 279.14 L383.35 279.39 L385.35 279.64 L387.35 279.9 L389.35 280.16 L391.35 280.43 L393.35 280.69 L395.35 280.95 L397.35 281.18 L399.35 281.4 L401.35 281.58 L403.35 281.73 L405.35 281.84 L407.35 281.89 L409.35 281.9 L411.35 281.87 L413.35 281.82 L415.35 281.74 L417.35 281.65 L419.35 281.55 L421.35 281.43 L423.35 281.31 L425.35 281.18 L427.35 281.01 L429.35 280.8 L431.35 280.54 L433.35 280.26 L435.35 279.95 L437.35 279.62" fill="none" stroke="#1f5078" stroke-width="1.1" stroke-dasharray="1.15 1.65"/>
<path d="M147.35 157.5V190.5M145.15 157.5h4.4M145.15 190.5h4.4M190.85 181.9V211.5M188.65 181.9h4.4M188.65 211.5h4.4M234.35 206.6V235.5M232.15 206.6h4.4M232.15 235.5h4.4M277.85 228.6V255.9M275.65 228.6h4.4M275.65 255.9h4.4M321.35 246.6V275.6M319.15 246.6h4.4M319.15 275.6h4.4M364.85 264.5V292M362.65 264.5h4.4M362.65 292h4.4M408.35 270.5V292M406.15 270.5h4.4M406.15 292h4.4" stroke="#1f5078" stroke-width="1.1" fill="none"/>
<circle cx="147.35" cy="173.9" r="1" fill="#1f5078"/><circle cx="190.85" cy="196.5" r="1" fill="#1f5078"/><circle cx="234.35" cy="220.9" r="1" fill="#1f5078"/><circle cx="277.85" cy="242.4" r="1" fill="#1f5078"/><circle cx="321.35" cy="261.3" r="1" fill="#1f5078"/><circle cx="364.85" cy="276.4" r="1" fill="#1f5078"/><circle cx="408.35" cy="281.9" r="1" fill="#1f5078"/>
<path d="M197 226.9 L199 227.83 L201 228.76 L203 229.68 L205 230.6 L207 231.5 L209 232.4 L211 233.29 L213 234.18 L215 235.05 L217 235.92 L219 236.78 L221 237.63 L223 238.48 L225 239.31 L227 240.14 L229 240.96 L231 241.77 L233 242.57 L235 243.37 L237 244.15 L239 244.92 L241 245.69 L243 246.44 L245 247.18 L247 247.91 L249 248.63 L251 249.33 L253 250.03 L255 250.72 L257 251.4 L259 252.07 L261 252.75 L263 253.41 L265 254.08 L267 254.74 L269 255.41 L271 256.07 L273 256.74 L275 257.41 L277 258.09 L279 258.77 L281 259.46 L283 260.15 L285 260.85 L287 261.57 L289 262.31 L291 263.05 L293 263.8 L295 264.57 L297 265.33 L299 266.1 L301 266.87 L303 267.64 L305 268.4 L307 269.16 L309 269.91 L311 270.66 L313 271.38 L315 272.1 L317 272.8 L319 273.48 L321 274.13 L323 274.77 L325 275.38 L327 275.96 L329 276.51 L331 277.05 L333 277.58 L335 278.08 L337 278.58 L339 279.06 L341 279.53 L343 279.99 L345 280.44 L347 280.89 L349 281.33 L351 281.76 L353 282.19 L355 282.62 L357 283.04 L359 283.47 L361 283.92 L363 284.41 L365 284.9 L367 285.35 L369 285.7 L371 285.9 L373 286.01 L375 286.11 L377 286.21 L379 286.29 L381 286.35 L383 286.41 L385 286.45 L387 286.48 L389 286.5 L391 286.5 L393 286.49 L395 286.46 L397 286.43 L399 286.38 L401 286.33 L403 286.27 L405 286.2 L407 286.07 L409 285.85 L411 285.56 L413 285.21 L415 284.85 L417 284.48 L419 284.12 L421 283.76 L423 283.37 L425 282.96 L427 282.54 L429 282.09 L431 281.63 L433 281.15 L435 280.65 L437 280.13" fill="none" stroke="#d62a20" stroke-width="1.1" stroke-dasharray="4.2 3.8"/>
<path d="M197 205.5V248.3M194.8 205.5h4.4M194.8 248.3h4.4M240.5 232.3V258.5M238.3 232.3h4.4M238.3 258.5h4.4M284 248V273.3M281.8 248h4.4M281.8 273.3h4.4M327.5 264.4V292M325.3 264.4h4.4M325.3 292h4.4M371 274.6V292M368.8 274.6h4.4M368.8 292h4.4M414.5 274.5V292M412.3 274.5h4.4M412.3 292h4.4" stroke="#d62a20" stroke-width="1.1" fill="none"/>
<circle cx="197" cy="226.9" r="1" fill="#d62a20"/><circle cx="240.5" cy="245.5" r="1" fill="#d62a20"/><circle cx="284" cy="260.5" r="1" fill="#d62a20"/><circle cx="327.5" cy="276.1" r="1" fill="#d62a20"/>
</g>
<path d="M60.91 28.77 L61.79 28.33 L63.12 27 L63.12 36.3M69.33 35.41 L68.88 35.86 L69.33 36.3 L69.77 35.86 L69.33 35.41M78.19 27 L73.76 27 L73.31 30.98 L73.76 30.54 L75.08 30.1 L76.41 30.1 L77.74 30.54 L78.63 31.43 L79.07 32.76 L79.07 33.64 L78.63 34.97 L77.74 35.86 L76.41 36.3 L75.08 36.3 L73.76 35.86 L73.31 35.41 L72.87 34.53M60.91 62.04 L61.79 61.6 L63.12 60.27 L63.12 69.57M69.33 68.69 L68.88 69.13 L69.33 69.57 L69.77 69.13 L69.33 68.69M75.53 60.27 L74.2 60.71 L73.31 62.04 L72.87 64.26 L72.87 65.58 L73.31 67.8 L74.2 69.13 L75.53 69.57 L76.41 69.57 L77.74 69.13 L78.63 67.8 L79.07 65.58 L79.07 64.26 L78.63 62.04 L77.74 60.71 L76.41 60.27 L75.53 60.27M62.24 97.44 L60.91 97.88 L60.02 99.21 L59.58 101.43 L59.58 102.76 L60.02 104.97 L60.91 106.3 L62.24 106.74 L63.12 106.74 L64.45 106.3 L65.34 104.97 L65.78 102.76 L65.78 101.43 L65.34 99.21 L64.45 97.88 L63.12 97.44 L62.24 97.44M69.33 105.86 L68.88 106.3 L69.33 106.74 L69.77 106.3 L69.33 105.86M78.19 97.44 L73.76 97.44 L73.31 101.43 L73.76 100.98 L75.08 100.54 L76.41 100.54 L77.74 100.98 L78.63 101.87 L79.07 103.2 L79.07 104.08 L78.63 105.41 L77.74 106.3 L76.41 106.74 L75.08 106.74 L73.76 106.3 L73.31 105.86 L72.87 104.97M62.24 134.61 L60.91 135.05 L60.02 136.38 L59.58 138.6 L59.58 139.93 L60.02 142.14 L60.91 143.47 L62.24 143.91 L63.12 143.91 L64.45 143.47 L65.34 142.14 L65.78 139.93 L65.78 138.6 L65.34 136.38 L64.45 135.05 L63.12 134.61 L62.24 134.61M69.33 143.03 L68.88 143.47 L69.33 143.91 L69.77 143.47 L69.33 143.03M75.53 134.61 L74.2 135.05 L73.31 136.38 L72.87 138.6 L72.87 139.93 L73.31 142.14 L74.2 143.47 L75.53 143.91 L76.41 143.91 L77.74 143.47 L78.63 142.14 L79.07 139.93 L79.07 138.6 L78.63 136.38 L77.74 135.05 L76.41 134.61 L75.53 134.61M48.5 177.1 L56.48 177.1M62.24 171.78 L60.91 172.23 L60.02 173.55 L59.58 175.77 L59.58 177.1 L60.02 179.31 L60.91 180.64 L62.24 181.09 L63.12 181.09 L64.45 180.64 L65.34 179.31 L65.78 177.1 L65.78 175.77 L65.34 173.55 L64.45 172.23 L63.12 171.78 L62.24 171.78M69.33 180.2 L68.88 180.64 L69.33 181.09 L69.77 180.64 L69.33 180.2M78.19 171.78 L73.76 171.78 L73.31 175.77 L73.76 175.33 L75.08 174.88 L76.41 174.88 L77.74 175.33 L78.63 176.21 L79.07 177.54 L79.07 178.43 L78.63 179.76 L77.74 180.64 L76.41 181.09 L75.08 181.09 L73.76 180.64 L73.31 180.2 L72.87 179.31M48.5 214.27 L56.48 214.27M60.91 210.73 L61.79 210.28 L63.12 208.95 L63.12 218.26M69.33 217.37 L68.88 217.81 L69.33 218.26 L69.77 217.81 L69.33 217.37M75.53 208.95 L74.2 209.4 L73.31 210.73 L72.87 212.94 L72.87 214.27 L73.31 216.49 L74.2 217.81 L75.53 218.26 L76.41 218.26 L77.74 217.81 L78.63 216.49 L79.07 214.27 L79.07 212.94 L78.63 210.73 L77.74 209.4 L76.41 208.95 L75.53 208.95M48.5 251.44 L56.48 251.44M60.91 247.9 L61.79 247.45 L63.12 246.13 L63.12 255.43M69.33 254.54 L68.88 254.99 L69.33 255.43 L69.77 254.99 L69.33 254.54M78.19 246.13 L73.76 246.13 L73.31 250.11 L73.76 249.67 L75.08 249.23 L76.41 249.23 L77.74 249.67 L78.63 250.56 L79.07 251.88 L79.07 252.77 L78.63 254.1 L77.74 254.99 L76.41 255.43 L75.08 255.43 L73.76 254.99 L73.31 254.54 L72.87 253.66M48.5 283.01 L56.48 283.01M60.02 279.91 L60.02 279.47 L60.47 278.58 L60.91 278.14 L61.79 277.7 L63.57 277.7 L64.45 278.14 L64.9 278.58 L65.34 279.47 L65.34 280.36 L64.9 281.24 L64.01 282.57 L59.58 287 L65.78 287M69.33 286.11 L68.88 286.56 L69.33 287 L69.77 286.56 L69.33 286.11M75.53 277.7 L74.2 278.14 L73.31 279.47 L72.87 281.68 L72.87 283.01 L73.31 285.23 L74.2 286.56 L75.53 287 L76.41 287 L77.74 286.56 L78.63 285.23 L79.07 283.01 L79.07 281.68 L78.63 279.47 L77.74 278.14 L76.41 277.7 L75.53 277.7M88.2 298.1 L83.77 307.4M82 298.1 L88.2 298.1M162.44 298.1 L161.11 298.54 L160.66 299.43 L160.66 300.31 L161.11 301.2 L161.99 301.64 L163.77 302.08 L165.09 302.53 L165.98 303.41 L166.42 304.3 L166.42 305.63 L165.98 306.51 L165.54 306.96 L164.21 307.4 L162.44 307.4 L161.11 306.96 L160.66 306.51 L160.22 305.63 L160.22 304.3 L160.66 303.41 L161.55 302.53 L162.88 302.08 L164.65 301.64 L165.54 301.2 L165.98 300.31 L165.98 299.43 L165.54 298.54 L164.21 298.1 L162.44 298.1M244.2 301.2 L243.76 302.53 L242.87 303.41 L241.54 303.86 L241.1 303.86 L239.77 303.41 L238.89 302.53 L238.44 301.2 L238.44 300.75 L238.89 299.43 L239.77 298.54 L241.1 298.1 L241.54 298.1 L242.87 298.54 L243.76 299.43 L244.2 301.2 L244.2 303.41 L243.76 305.63 L242.87 306.96 L241.54 307.4 L240.66 307.4 L239.33 306.96 L238.89 306.07M313.56 299.87 L314.45 299.43 L315.78 298.1 L315.78 307.4M323.75 298.1 L322.42 298.54 L321.54 299.87 L321.1 302.08 L321.1 303.41 L321.54 305.63 L322.42 306.96 L323.75 307.4 L324.64 307.4 L325.97 306.96 L326.85 305.63 L327.3 303.41 L327.3 302.08 L326.85 299.87 L325.97 298.54 L324.64 298.1 L323.75 298.1M391.79 299.87 L392.67 299.43 L394 298.1 L394 307.4M400.65 299.87 L401.53 299.43 L402.86 298.1 L402.86 307.4M238.83 315.7 L238.83 325M244.15 318.8 L243.26 319.24 L242.37 320.13 L241.93 321.46 L241.93 322.34 L242.37 323.67 L243.26 324.56 L244.15 325 L245.48 325 L246.36 324.56 L247.25 323.67 L247.69 322.34 L247.69 321.46 L247.25 320.13 L246.36 319.24 L245.48 318.8 L244.15 318.8M255.66 318.8 L255.66 325.89 L255.22 327.21 L254.78 327.66 L253.89 328.1 L252.56 328.1 L251.68 327.66M255.66 320.13 L254.78 319.24 L253.89 318.8 L252.56 318.8 L251.68 319.24 L250.79 320.13 L250.35 321.46 L250.35 322.34 L250.79 323.67 L251.68 324.56 L252.56 325 L253.89 325 L254.78 324.56 L255.66 323.67M262.31 313.93 L261.42 314.81 L260.54 316.14 L259.65 317.91 L259.21 320.13 L259.21 321.9 L259.65 324.11 L260.54 325.89 L261.42 327.21 L262.31 328.1M265.41 315.7 L265.41 325M265.41 315.7 L268.95 325M272.5 315.7 L268.95 325M272.5 315.7 L272.5 325M278.12 325.28 L277.84 324.73 L277.02 324.45 L276.19 324.45 L275.37 324.73 L275.09 325.28 L275.37 325.83 L275.92 326.1 L277.29 326.38 L277.84 326.65 L278.12 327.2 L278.12 327.48 L277.84 328.03 L277.02 328.3 L276.19 328.3 L275.37 328.03 L275.09 327.48M280.27 313.93 L281.15 314.81 L282.04 316.14 L282.93 317.91 L283.37 320.13 L283.37 321.9 L282.93 324.11 L282.04 325.89 L281.15 327.21 L280.27 328.1M322.47 46.03 L321.59 45.14 L320.26 44.7 L318.49 44.7 L317.16 45.14 L316.27 46.03 L316.27 46.91 L316.72 47.8 L317.16 48.24 L318.04 48.68 L320.7 49.57 L321.59 50.01 L322.03 50.46 L322.47 51.34 L322.47 52.67 L321.59 53.56 L320.26 54 L318.49 54 L317.16 53.56 L316.27 52.67M325.13 50.46 L330.45 50.46 L330.45 49.57 L330.01 48.68 L329.56 48.24 L328.68 47.8 L327.35 47.8 L326.46 48.24 L325.58 49.13 L325.13 50.46 L325.13 51.34 L325.58 52.67 L326.46 53.56 L327.35 54 L328.68 54 L329.56 53.56 L330.45 52.67M338.42 49.13 L337.54 48.24 L336.65 47.8 L335.32 47.8 L334.44 48.24 L333.55 49.13 L333.11 50.46 L333.11 51.34 L333.55 52.67 L334.44 53.56 L335.32 54 L336.65 54 L337.54 53.56 L338.42 52.67M348.61 46.91 L348.61 46.47 L349.05 45.58 L349.5 45.14 L350.38 44.7 L352.16 44.7 L353.04 45.14 L353.48 45.58 L353.93 46.47 L353.93 47.35 L353.48 48.24 L352.6 49.57 L348.17 54 L354.37 54M298.55 61.25 L298.55 67.45M298.55 63.02 L299.88 61.69 L300.77 61.25 L302.1 61.25 L302.98 61.69 L303.43 63.02 L303.43 67.45M303.43 63.02 L304.75 61.69 L305.64 61.25 L306.97 61.25 L307.86 61.69 L308.3 63.02 L308.3 67.45M313.62 61.25 L312.73 61.69 L311.84 62.58 L311.4 63.91 L311.4 64.79 L311.84 66.12 L312.73 67.01 L313.62 67.45 L314.94 67.45 L315.83 67.01 L316.72 66.12 L317.16 64.79 L317.16 63.91 L316.72 62.58 L315.83 61.69 L314.94 61.25 L313.62 61.25M325.13 58.15 L325.13 67.45M325.13 62.58 L324.25 61.69 L323.36 61.25 L322.03 61.25 L321.15 61.69 L320.26 62.58 L319.82 63.91 L319.82 64.79 L320.26 66.12 L321.15 67.01 L322.03 67.45 L323.36 67.45 L324.25 67.01 L325.13 66.12M328.23 58.15 L328.68 58.59 L329.12 58.15 L328.68 57.7 L328.23 58.15M328.68 61.25 L328.68 67.45M334.88 58.15 L333.99 58.15 L333.11 58.59 L332.66 59.92 L332.66 67.45M331.33 61.25 L334.44 61.25M337.09 58.15 L337.54 58.59 L337.98 58.15 L337.54 57.7 L337.09 58.15M337.54 61.25 L337.54 67.45M340.64 63.91 L345.95 63.91 L345.95 63.02 L345.51 62.13 L345.07 61.69 L344.18 61.25 L342.85 61.25 L341.97 61.69 L341.08 62.58 L340.64 63.91 L340.64 64.79 L341.08 66.12 L341.97 67.01 L342.85 67.45 L344.18 67.45 L345.07 67.01 L345.95 66.12M353.93 58.15 L353.93 67.45M353.93 62.58 L353.04 61.69 L352.16 61.25 L350.83 61.25 L349.94 61.69 L349.05 62.58 L348.61 63.91 L348.61 64.79 L349.05 66.12 L349.94 67.01 L350.83 67.45 L352.16 67.45 L353.04 67.01 L353.93 66.12M339.75 71.6 L339.75 78.24 L340.19 79.57 L341.08 80.46 L342.41 80.9 L343.3 80.9 L344.62 80.46 L345.51 79.57 L345.95 78.24 L345.95 71.6M348.17 71.6 L351.71 80.9M355.26 71.6 L351.71 80.9M301.21 89.48 L300.77 88.59 L299.44 88.15 L298.11 88.15 L296.78 88.59 L296.34 89.48 L296.78 90.36 L297.67 90.81 L299.88 91.25 L300.77 91.69 L301.21 92.58 L301.21 93.02 L300.77 93.91 L299.44 94.35 L298.11 94.35 L296.78 93.91 L296.34 93.02M304.75 85.05 L304.75 92.58 L305.2 93.91 L306.08 94.35 L306.97 94.35M303.43 88.15 L306.53 88.15M314.5 88.15 L314.5 94.35M314.5 89.48 L313.62 88.59 L312.73 88.15 L311.4 88.15 L310.51 88.59 L309.63 89.48 L309.19 90.81 L309.19 91.69 L309.63 93.02 L310.51 93.91 L311.4 94.35 L312.73 94.35 L313.62 93.91 L314.5 93.02M318.04 88.15 L318.04 94.35M318.04 89.92 L319.37 88.59 L320.26 88.15 L321.59 88.15 L322.47 88.59 L322.92 89.92 L322.92 94.35M331.33 85.05 L331.33 94.35M331.33 89.48 L330.45 88.59 L329.56 88.15 L328.23 88.15 L327.35 88.59 L326.46 89.48 L326.02 90.81 L326.02 91.69 L326.46 93.02 L327.35 93.91 L328.23 94.35 L329.56 94.35 L330.45 93.91 L331.33 93.02M339.75 88.15 L339.75 94.35M339.75 89.48 L338.87 88.59 L337.98 88.15 L336.65 88.15 L335.76 88.59 L334.88 89.48 L334.44 90.81 L334.44 91.69 L334.88 93.02 L335.76 93.91 L336.65 94.35 L337.98 94.35 L338.87 93.91 L339.75 93.02M343.3 88.15 L343.3 94.35M343.3 90.81 L343.74 89.48 L344.62 88.59 L345.51 88.15 L346.84 88.15M353.93 85.05 L353.93 94.35M353.93 89.48 L353.04 88.59 L352.16 88.15 L350.83 88.15 L349.94 88.59 L349.05 89.48 L348.61 90.81 L348.61 91.69 L349.05 93.02 L349.94 93.91 L350.83 94.35 L352.16 94.35 L353.04 93.91 L353.93 93.02M116.03 249.06 L121.34 249.06 L121.34 248.17 L120.9 247.28 L120.46 246.84 L119.57 246.4 L118.24 246.4 L117.36 246.84 L116.47 247.73 L116.03 249.06 L116.03 249.94 L116.47 251.27 L117.36 252.16 L118.24 252.6 L119.57 252.6 L120.46 252.16 L121.34 251.27M129.32 246.4 L129.32 252.6M129.32 247.73 L128.43 246.84 L127.55 246.4 L126.22 246.4 L125.33 246.84 L124.45 247.73 L124 249.06 L124 249.94 L124.45 251.27 L125.33 252.16 L126.22 252.6 L127.55 252.6 L128.43 252.16 L129.32 251.27M132.86 246.4 L132.86 252.6M132.86 249.06 L133.31 247.73 L134.19 246.84 L135.08 246.4 L136.41 246.4M138.62 243.3 L138.62 252.6M141.28 246.4 L143.94 252.6M146.6 246.4 L143.94 252.6 L143.05 254.37 L142.17 255.26 L141.28 255.7 L140.84 255.7M116.67 257.6 L116.67 266.9M125.09 260.7 L125.09 266.9M125.09 262.03 L124.2 261.14 L123.32 260.7 L121.99 260.7 L121.1 261.14 L120.22 262.03 L119.77 263.36 L119.77 264.24 L120.22 265.57 L121.1 266.46 L121.99 266.9 L123.32 266.9 L124.2 266.46 L125.09 265.57M129.08 257.6 L129.08 265.13 L129.52 266.46 L130.41 266.9 L131.29 266.9M127.75 260.7 L130.85 260.7M133.51 263.36 L138.82 263.36 L138.82 262.47 L138.38 261.58 L137.94 261.14 L137.05 260.7 L135.72 260.7 L134.83 261.14 L133.95 262.03 L133.51 263.36 L133.51 264.24 L133.95 265.57 L134.83 266.46 L135.72 266.9 L137.05 266.9 L137.94 266.46 L138.82 265.57" fill="none" stroke="#363636" stroke-width="1.0" stroke-linecap="round" stroke-linejoin="round"/>
<path transform="translate(34.2 157.2) rotate(-90)" d="M-38.23 -9.3 L-38.23 0M-32.91 -6.2 L-33.8 -5.76 L-34.68 -4.87 L-35.13 -3.54 L-35.13 -2.66 L-34.68 -1.33 L-33.8 -0.44 L-32.91 0 L-31.58 0 L-30.7 -0.44 L-29.81 -1.33 L-29.37 -2.66 L-29.37 -3.54 L-29.81 -4.87 L-30.7 -5.76 L-31.58 -6.2 L-32.91 -6.2M-21.39 -6.2 L-21.39 0.89 L-21.84 2.21 L-22.28 2.66 L-23.16 3.1 L-24.49 3.1 L-25.38 2.66M-21.39 -4.87 L-22.28 -5.76 L-23.16 -6.2 L-24.49 -6.2 L-25.38 -5.76 L-26.27 -4.87 L-26.71 -3.54 L-26.71 -2.66 L-26.27 -1.33 L-25.38 -0.44 L-24.49 0 L-23.16 0 L-22.28 -0.44 L-21.39 -1.33M-14.75 -11.07 L-15.63 -10.19 L-16.52 -8.86 L-17.41 -7.09 L-17.85 -4.87 L-17.85 -3.1 L-17.41 -0.89 L-16.52 0.89 L-15.63 2.21 L-14.75 3.1M-11.65 -9.3 L-11.65 0M-11.65 -9.3 L-8.1 0M-4.56 -9.3 L-8.1 0M-4.56 -9.3 L-4.56 0M-1.69 -2.47 L-1.69 3.3M2.16 -2.47 L2.16 3.3M-1.69 0.28 L2.16 0.28M4.9 -1.37 L5.45 -1.64 L6.28 -2.47 L6.28 3.3M17.61 -11.07 L9.64 3.1M20.27 -9.3 L20.27 0M20.27 -9.3 L23.81 0M27.36 -9.3 L23.81 0M27.36 -9.3 L27.36 0M32.97 0.28 L32.7 -0.27 L31.87 -0.55 L31.05 -0.55 L30.23 -0.27 L29.95 0.28 L30.23 0.83 L30.78 1.1 L32.15 1.38 L32.7 1.65 L32.97 2.2 L32.97 2.48 L32.7 3.03 L31.87 3.3 L31.05 3.3 L30.23 3.03 L29.95 2.48M35.13 -11.07 L36.01 -10.19 L36.9 -8.86 L37.78 -7.09 L38.23 -4.87 L38.23 -3.1 L37.78 -0.89 L36.9 0.89 L36.01 2.21 L35.13 3.1" fill="none" stroke="#363636" stroke-width="1.0" stroke-linecap="round" stroke-linejoin="round"/>
<path d="M365.1 50.4H416.2" stroke="#e88304" stroke-width="2.2"/>
<path d="M365.1 63.9H416.2" stroke="#8c8c8c" stroke-width="2"/>
<path d="M365.1 77.4H416.2" stroke="#1f5078" stroke-width="1" stroke-dasharray="1 1.62" opacity="0.85"/>
<path d="M365.1 91H416.2" stroke="#e58b84" stroke-width="2" stroke-dasharray="3.9 3.72"/>
<path d="M102.3 249.1h8.6M106.6 244.8v8.6" stroke="#d8463c" stroke-width="0.65" fill="none"/>
<path d="M102.3 263.1h8.6M106.6 258.8v8.6" stroke="#2e5f8a" stroke-width="0.65" fill="none"/>
</svg></body></html>
